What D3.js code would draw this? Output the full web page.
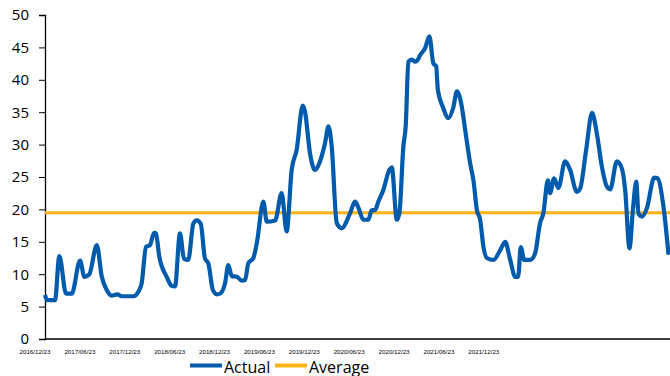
<!DOCTYPE html>
<html>
<head>
<meta charset="utf-8">
<script src="https://cdn.jsdelivr.net/npm/d3@7"></script>
<style>
  body { margin: 0; background: #fff; }
  text { font-family: "Open Sans", sans-serif; }
</style>
</head>
<body>
<div id="chart"></div>
<script>
// Weeks since 2016/12/23 and the actual value at that week
var weeks = [0, 1.2, 5.8, 8.3, 12.2, 15.5, 20.3, 22.8, 25.7, 30.0, 32.9, 35.7, 38.6, 41.9, 44.4, 51.2, 54.1, 56.0,
  58.5, 60.8, 63.2, 64.3, 66.2, 70.5, 73.4, 75.3, 78.2, 80.5, 83.0, 85.9, 87.9, 90.2, 92.7, 94.6, 97.2, 99.5,
  101.4, 104.3, 106.2, 108.2, 111.1, 114.0, 115.9, 117.8, 120.7, 122.7, 126.5, 128.5, 133.3, 137.1, 140.0,
  142.9, 145.8, 149.3, 150.6, 153.5, 156.4, 159.3, 162.2, 164.2, 166.1, 169.0, 171.9, 176.7, 179.6, 181.5,
  184.4, 187.3, 189.3, 191.2, 193.1, 196.0, 199.5, 200.9, 203.8, 205.3, 207.6, 209.0, 210.5, 212.5, 214.4,
  215.7, 217.3, 220.2, 222.7, 225.0, 226.6, 227.6, 230.5, 233.7, 236.6, 238.6, 241.5, 243.4, 246.3, 248.2,
  250.2, 252.1, 254.0, 256.0, 259.8, 263.7, 266.6, 269.5, 272.4, 274.1, 275.6, 277.6, 281.0, 283.9, 286.8,
  288.7, 291.3, 292.6, 294.9, 297.4, 301.3, 304.2, 308.1, 310.0, 313.5, 316.9, 319.7, 322.6, 325.5, 327.4,
  331.3, 334.2, 336.1, 338.6, 340.6, 342.5, 343.8, 345.8, 348.7, 352.9, 354.8, 358.3, 361.2];
var actual = [6.8, 6.0, 6.0, 12.8, 7.0, 7.0, 12.1, 9.6, 10.0, 14.5, 9.6, 7.6, 6.7, 6.9, 6.6, 6.6, 7.3, 8.6,
  14.2, 14.5, 16.4, 16.3, 12.7, 9.6, 8.2, 8.1, 16.3, 12.4, 12.2, 17.8, 18.3, 17.8, 12.4, 11.7, 7.6, 6.9,
  7.0, 8.6, 11.4, 9.7, 9.6, 9.0, 9.1, 11.7, 12.5, 14.8, 21.2, 18.1, 18.3, 22.5, 16.6,
  26.1, 29.2, 36.0, 35.1, 28.7, 26.1, 27.4, 30.2, 32.8, 29.7, 17.9, 17.1, 19.4, 21.2, 20.3,
  18.4, 18.4, 19.9, 19.9, 21.2, 23.0, 26.1, 26.5, 18.4, 19.4, 29.7, 33.0, 42.8, 43.1, 42.8,
  43.0, 43.8, 44.9, 46.7, 42.5, 42.1, 38.4, 35.8, 34.1, 35.8, 38.2, 35.8, 32.3, 27.1, 24.5,
  19.9, 18.4, 14.2, 12.5, 12.2, 13.7, 15.0, 12.2, 9.6, 9.6, 14.2, 12.2, 12.2, 13.2, 17.9,
  19.4, 24.5, 22.5, 24.8, 23.3, 27.4, 26.1, 22.7, 23.2, 29.2, 34.9, 31.7, 26.6, 23.5, 23.1,
  27.4, 26.3, 23.0, 14.0, 20.0, 24.3, 19.4, 18.9, 20.2, 24.9, 24.8, 20.4, 13.0];
var average = 19.5;
var tickLabels = ["2016/12/23", "2017/06/23", "2017/12/23", "2018/06/23", "2018/12/23", "2019/06/23",
  "2019/12/23", "2020/06/23", "2020/12/23", "2021/06/23", "2021/12/23"];
var tickWeeks = [0, 26, 52, 78, 104, 130, 156, 182, 208, 234, 260];

var width = 670, height = 376;
var margin = {top: 15, right: 0, bottom: 37, left: 45};

var svg = d3.select("#chart").append("svg").attr("width", width).attr("height", height);

var x = d3.scaleLinear().domain([0, 361.2]).range([margin.left, 668.5]);
var y = d3.scaleLinear().domain([0, 50]).range([height - margin.bottom, margin.top]);

// y axis
var yAxis = svg.append("g")
    .attr("transform", "translate(" + margin.left + ",0)")
    .call(d3.axisLeft(y).tickValues(d3.range(0, 51, 5)).tickSize(6).tickPadding(10));
yAxis.select(".domain").attr("stroke", "#000").attr("stroke-width", 1.3);
yAxis.selectAll(".tick line").attr("stroke", "#000");
yAxis.selectAll("text").style("font-size", "15px").attr("fill", "#000").style("font-family", "Open Sans");

// x axis line
svg.append("line")
    .attr("x1", margin.left).attr("x2", width)
    .attr("y1", y(0)).attr("y2", y(0))
    .attr("stroke", "#000").attr("stroke-width", 1.3);

svg.selectAll(".xlabel")
    .data(tickLabels)
  .enter().append("text")
    .attr("class", "xlabel")
    .attr("x", function(d, i) { return x(tickWeeks[i]) - 10; })
    .attr("y", y(0) + 14.8)
    .attr("text-anchor", "middle")
    .style("font-family", "Liberation Sans")
    .style("font-size", "6.2px")
    .text(function(d) { return d; });

// average line
svg.append("line")
    .attr("x1", margin.left).attr("x2", width)
    .attr("y1", y(average)).attr("y2", y(average))
    .attr("stroke", "#FFB218").attr("stroke-width", 3);

// actual line
var line = d3.line()
    .x(function(d, i) { return x(weeks[i]); })
    .y(function(d) { return y(d); })
    .curve(d3.curveMonotoneX);

svg.append("path")
    .datum(actual)
    .attr("d", line)
    .attr("fill", "none")
    .attr("stroke", "#005BAC")
    .attr("stroke-width", 4.2)
    .attr("stroke-linejoin", "round");

// legend
var legend = [{name: "Actual", color: "#005BAC", x: 190}, {name: "Average", color: "#FFB218", x: 275}];
var lg = svg.selectAll(".legend").data(legend).enter().append("g").attr("class", "legend");
lg.append("line")
    .attr("x1", function(d) { return d.x; }).attr("x2", function(d) { return d.x + 32; })
    .attr("y1", 365.5).attr("y2", 365.5)
    .attr("stroke", function(d) { return d.color; }).attr("stroke-width", 4);
lg.append("text")
    .attr("x", function(d) { return d.x + 34; })
    .attr("y", 372.5)
    .style("font-size", "16px")
    .text(function(d) { return d.name; });
</script>
</body>
</html>
